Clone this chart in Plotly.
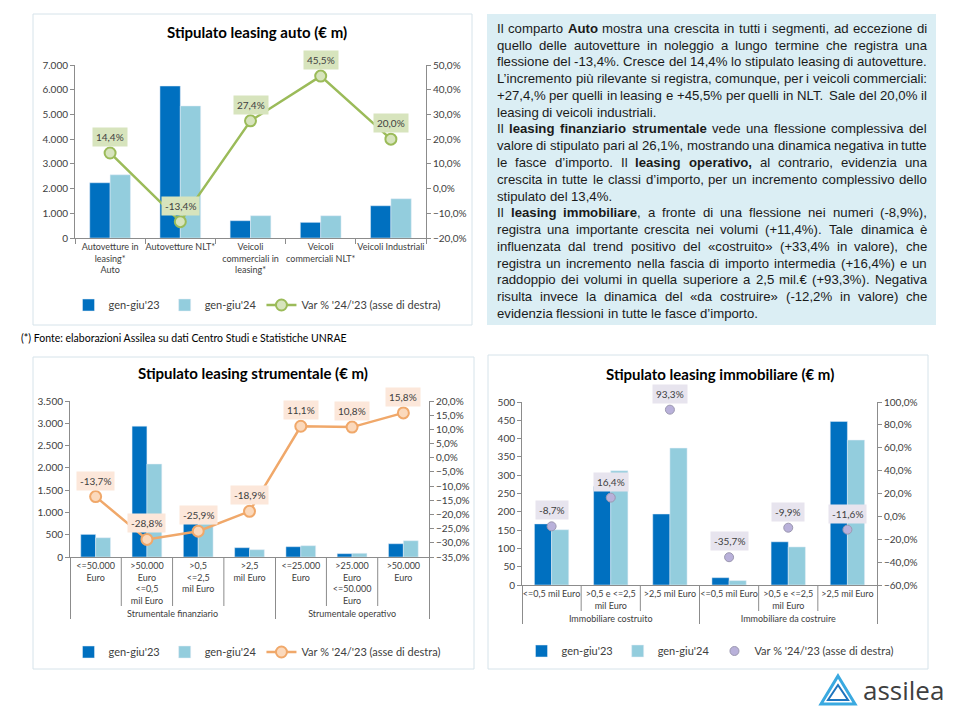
import plotly.graph_objects as go

W, H = 960, 720
def px(x): return x / W
def py(y): return 1 - y / H

# ---------------- DATA ----------------
auto_cats = ["Autovetture in<br>leasing*<br>Auto", "Autovetture NLT*",
             "Veicoli<br>commerciali in<br>leasing*", "Veicoli<br>commerciali NLT*",
             "Veicoli Industriali"]
auto_23 = [2235, 6150, 700, 633, 1305]
auto_24 = [2557, 5343, 902, 900, 1588]
auto_var = [14.4, -13.4, 27.4, 45.5, 20.0]

strum_groups = ["Strumentale finanziario"] * 4 + ["Strumentale operativo"] * 3
strum_cats = ["&lt;=50.000<br>Euro", "&gt;50.000<br>Euro<br>&lt;=0,5<br>mil Euro",
              "&gt;0,5<br>&lt;=2,5<br>mil Euro", "&gt;2,5<br>mil Euro",
              "&lt;=25.000<br>Euro", "&gt;25.000<br>Euro<br>&lt;=50.000<br>Euro",
              "&gt;50.000<br>Euro"]
strum_23 = [507, 2936, 770, 209, 231, 75, 298]
strum_24 = [432, 2086, 740, 164, 253, 83, 365]
strum_var = [-13.7, -28.8, -25.9, -18.9, 11.1, 10.8, 15.8]

immo_groups = ["Immobiliare costruito"] * 3 + ["Immobiliare da costruire"] * 3
immo_cats = ["&lt;=0,5 mil Euro", "&gt;0,5 e &lt;=2,5<br>mil Euro", "&gt;2,5 mil Euro",
             "&lt;=0,5 mil Euro", "&gt;0,5 e &lt;=2,5<br>mil Euro", "&gt;2,5 mil Euro"]
immo_23 = [167, 269, 194, 20, 118, 447]
immo_24 = [151, 312, 374, 12, 104, 396]
immo_var = [-8.7, 16.4, 93.3, -35.7, -9.9, -11.6]

s23, s24 = "gen-giu'23", "gen-giu'24"
svar = "Var % '24/'23 (asse di destra)"

text_lines = [
    "Il comparto <b>Auto</b> mostra una crescita in tutti i segmenti, ad eccezione di",
    "quello delle autovetture in noleggio a lungo termine che registra una",
    "flessione del -13,4%. Cresce del 14,4% lo stipulato leasing di autovetture.",
    "L’incremento più rilevante si registra, comunque, per i veicoli commerciali:",
    "+27,4,% per quelli in leasing e +45,5% per quelli in NLT. Sale del 20,0% il",
    "leasing di veicoli industriali.",
    "Il <b>leasing finanziario strumentale</b> vede una flessione complessiva del",
    "valore di stipulato pari al 26,1%, mostrando una dinamica negativa in tutte",
    "le fasce d’importo. Il <b>leasing operativo,</b> al contrario, evidenzia una",
    "crescita in tutte le classi d’importo, per un incremento complessivo dello",
    "stipulato del 13,4%.",
    "Il <b>leasing immobiliare</b>, a fronte di una flessione nei numeri (-8,9%),",
    "registra una importante crescita nei volumi (+11,4%). Tale dinamica è",
    "influenzata dal trend positivo del «costruito» (+33,4% in valore), che",
    "registra un incremento nella fascia di importo intermedia (+16,4%) e un",
    "raddoppio dei volumi in quella superiore a 2,5 mil.€ (+93,3%). Negativa",
    "risulta invece la dinamica del «da costruire» (-12,2% in valore) che",
    "evidenzia flessioni in tutte le fasce d’importo.",
]
para_last = {5, 10, 17}
footnote = "(*) Fonte: elaborazioni Assilea su dati Centro Studi e Statistiche UNRAE"

# ---------------- STYLE ----------------
FONT = "Lato"
DARK, LIGHT = "#0070C0", "#93CDDD"
GREEN, GREEN_L = "#9BBB59", "#D7E4BD"
ORANGE, ORANGE_L, ORANGE_BG = "#F0A86A", "#FBD9BC", "#FCE7DA"
PURP, PURP_L, PURP_BG = "#9C98B0", "#B9B1DA", "#E7E4EE"
AX = "#8C8C8C"
TICKF = dict(family=FONT, size=10, color="#404040")
XTICKF = dict(family=FONT, size=9, color="#404040")

fig = go.Figure()

def add_chart(xa, ya, ya2, xvals, v23, v24, var, lg, lcol, lfill, line=True):
    fig.add_trace(go.Bar(x=xvals, y=v23, name=s23, marker_color=DARK, xaxis=xa, yaxis=ya,
                         legend=lg))
    fig.add_trace(go.Bar(x=xvals, y=v24, name=s24, marker_color=LIGHT, xaxis=xa, yaxis=ya,
                         legend=lg))
    fig.add_trace(go.Scatter(x=xvals, y=var, name=svar,
                             mode="lines+markers" if line else "markers",
                             line=dict(color=lcol, width=2.5),
                             marker=dict(size=11 if line else 9, color=lfill,
                                         line=dict(color=lcol, width=2 if line else 1)),
                             xaxis=xa, yaxis=ya2, legend=lg))

add_chart("x", "y", "y2", auto_cats, auto_23, auto_24, auto_var, "legend", GREEN, GREEN_L)
add_chart("x2", "y3", "y4", [strum_groups, strum_cats], strum_23, strum_24, strum_var,
          "legend2", ORANGE, ORANGE_L)
add_chart("x3", "y5", "y6", [immo_groups, immo_cats], immo_23, immo_24, immo_var,
          "legend3", PURP, PURP_L, line=False)

def yax(dom, rng, dtick, fmt, suffix="", **kw):
    d = dict(domain=dom, range=rng, dtick=dtick, tickformat=fmt, ticksuffix=suffix,
             showgrid=False, zeroline=False, showline=True, linecolor=AX, linewidth=1,
             ticks="outside", ticklen=4, tickcolor=AX, tickfont=TICKF, automargin=False)
    d.update(kw)
    return d

def xax(dom, anchor, **kw):
    d = dict(domain=dom, anchor=anchor, showgrid=False, showline=True, linecolor=AX,
             ticks="outside", tickson="boundaries", ticklen=5, tickcolor=AX,
             tickfont=XTICKF, tickangle=0, automargin=False)
    d.update(kw)
    return d

fig.update_layout(
    width=W, height=H, margin=dict(l=0, r=0, t=0, b=0, pad=0, autoexpand=False),
    paper_bgcolor="white", plot_bgcolor="rgba(0,0,0,0)",
    separators=",.", barmode="group", bargap=0.42, bargroupgap=0,
    showlegend=True, font=dict(family=FONT, color="#404040"),
    xaxis=xax([px(75), px(426)], "y", type="category"),
    yaxis=yax([py(238), py(65)], [0, 7000], 1000, ",d", anchor="x"),
    yaxis2=yax([py(238), py(65)], [-20, 50], 10, ".1f", "%", overlaying="y",
               side="right", anchor="x"),
    xaxis2=xax([px(70), px(429)], "y3", type="multicategory", ticklen=0,
               dividercolor=AX, dividerwidth=1),
    yaxis3=yax([py(557), py(401)], [0, 3500], 500, ",d", anchor="x2"),
    yaxis4=yax([py(557), py(401)], [-35, 20], 5, ".1f", "%", overlaying="y3",
               side="right", anchor="x2"),
    xaxis3=xax([px(522), px(877)], "y5", type="multicategory", ticklen=0,
               dividercolor=AX, dividerwidth=1),
    yaxis5=yax([py(585), py(402)], [0, 500], 50, ",d", anchor="x3"),
    yaxis6=yax([py(585), py(402)], [-60, 100], 20, ".1f", "%", overlaying="y5",
               side="right", anchor="x3"),
)

leg = dict(orientation="h", xanchor="center", yanchor="middle",
           font=dict(family=FONT, size=11, color="#404040"), bgcolor="rgba(0,0,0,0)",
           itemwidth=30, traceorder="normal")
fig.update_layout(legend=dict(leg, x=px(257), y=py(305)),
                  legend2=dict(leg, x=px(257), y=py(652)),
                  legend3=dict(leg, x=px(710), y=py(651)))

shapes = []
annotations = []

# panel borders
for (x0, y0, x1, y1) in [(33, 14, 472, 325), (33, 357, 474, 669), (488, 355, 928, 669)]:
    shapes.append(dict(type="rect", xref="paper", yref="paper", x0=px(x0), x1=px(x1),
                       y0=py(y1), y1=py(y0), line=dict(color="#D6E3EA", width=1),
                       fillcolor="rgba(0,0,0,0)", layer="below"))

# text box background
shapes.append(dict(type="rect", xref="paper", yref="paper", x0=px(487), x1=px(936),
                   y0=py(325), y1=py(14), line=dict(width=0), fillcolor="#DBEEF4",
                   layer="below"))

# category separators inside groups (multi-level axes)
for xr, n, groups, ytop, ybot in [("x2", len(strum_cats), strum_groups, 557, 606),
                                  ("x3", len(immo_cats), immo_groups, 585, 611)]:
    for i in range(n - 1):
        if groups[i] == groups[i + 1]:
            shapes.append(dict(type="line", xref=xr, yref="paper", x0=i + 0.5, x1=i + 0.5,
                               y0=py(ybot), y1=py(ytop), line=dict(color=AX, width=1)))

# titles
for (t, x, y) in [("Stipulato leasing auto (€ m)", 257, 32),
                  ("Stipulato leasing strumentale (€ m)", 253, 373),
                  ("Stipulato leasing immobiliare (€ m)", 720, 374)]:
    annotations.append(dict(text=f"<b>{t}</b>", xref="paper", yref="paper", x=px(x), y=py(y),
                            showarrow=False, xanchor="center", yanchor="middle",
                            font=dict(family=FONT, size=15, color="#000000")))

# data labels
def fmt_pct(v):
    return f"{v:.1f}%".replace(".", ",")

for xr, yr, vals, bg in [("x", "y2", auto_var, GREEN_L), ("x2", "y4", strum_var, ORANGE_BG),
                         ("x3", "y6", immo_var, PURP_BG)]:
    for i, v in enumerate(vals):
        annotations.append(dict(text=fmt_pct(v), xref=xr, yref=yr, x=i, y=v, yshift=16,
                                showarrow=False, bgcolor=bg, borderpad=3,
                                font=dict(family=FONT, size=10, color="#404040")))

# footnote
annotations.append(dict(text=footnote, xref="paper", yref="paper", x=px(19), y=py(338),
                        xanchor="left", yanchor="middle", showarrow=False,
                        font=dict(family=FONT, size=10.5, color="#000000")))

# ---------- justified paragraph text ----------
REG = {' ': 278, 'a': 556, 'b': 556, 'c': 500, 'd': 556, 'e': 556, 'f': 278, 'g': 556,
       'h': 556, 'i': 222, 'j': 222, 'k': 500, 'l': 222, 'm': 833, 'n': 556, 'o': 556,
       'p': 556, 'q': 556, 'r': 333, 's': 500, 't': 278, 'u': 556, 'v': 500, 'w': 722,
       'x': 500, 'y': 500, 'z': 500, 'A': 667, 'C': 722, 'I': 278, 'L': 556, 'N': 722,
       'S': 667, 'T': 611, 'è': 556, 'ù': 556, ',': 278, '.': 278, '-': 333, '%': 889,
       '(': 333, ')': 333, ':': 278, '’': 222, '«': 556, '»': 556, '+': 584, '€': 556}
BOLD = {' ': 278, 'a': 556, 'c': 556, 'd': 611, 'e': 556, 'f': 333, 'g': 611, 'i': 278,
        'l': 278, 'm': 889, 'n': 611, 'o': 611, 'p': 611, 'r': 389, 's': 556, 't': 333,
        'u': 611, 'v': 556, 'z': 500, 'A': 722, ',': 278, 'b': 611}

def parse(line):
    words, cur, bold, i = [], [], False, 0
    while i < len(line):
        if line.startswith("<b>", i):
            bold = True; i += 3; continue
        if line.startswith("</b>", i):
            bold = False; i += 4; continue
        ch = line[i]
        if ch == " ":
            if cur: words.append(cur); cur = []
        else:
            cur.append((ch, bold))
        i += 1
    if cur: words.append(cur)
    return words

def wwidth(w):
    return sum((BOLD if b else REG).get(c, 556) for c, b in w) / 1000.0

def wtext(w):
    out, b_open = "", False
    for c, b in w:
        if b and not b_open: out += "<b>"; b_open = True
        if not b and b_open: out += "</b>"; b_open = False
        out += c
    if b_open: out += "</b>"
    return out

FS = 13.2
LEFT, RIGHT = 497, 927
for li, line in enumerate(text_lines):
    words = parse(line)
    widths = [wwidth(w) * FS for w in words]
    space = 0.278 * FS
    if li not in para_last and len(words) > 1:
        space = (RIGHT - LEFT - sum(widths)) / (len(words) - 1)
    x = LEFT
    yc = 28.3 + li * 16.78
    for w, ww in zip(words, widths):
        annotations.append(dict(text=wtext(w), xref="paper", yref="paper", x=px(x - 2),
                                y=py(yc), xanchor="left", yanchor="middle", showarrow=False,
                                font=dict(family="Liberation Sans", size=FS, color="#1A1A1A")))
        x += ww + space

# logo
annotations.append(dict(text="assilea", xref="paper", yref="paper", x=px(861), y=py(690),
                        xanchor="left", yanchor="middle", showarrow=False,
                        font=dict(family="Open Sans", size=26, color="#3F3F3F")))
def tri(pts):
    return "M " + " L ".join(f"{px(a):.5f},{py(b):.5f}" for a, b in pts) + " Z"
shapes.append(dict(type="path", xref="paper", yref="paper",
                   path=tri([(838, 676), (855, 704), (821, 704)]),
                   line=dict(color="#3AA9E0", width=3), fillcolor="rgba(0,0,0,0)"))
shapes.append(dict(type="path", xref="paper", yref="paper",
                   path=tri([(838, 685), (848, 700), (828, 700)]),
                   line=dict(color="#1E74BE", width=2), fillcolor="rgba(0,0,0,0)"))

fig.update_layout(shapes=shapes, annotations=annotations)
fig.write_html("out.html")
